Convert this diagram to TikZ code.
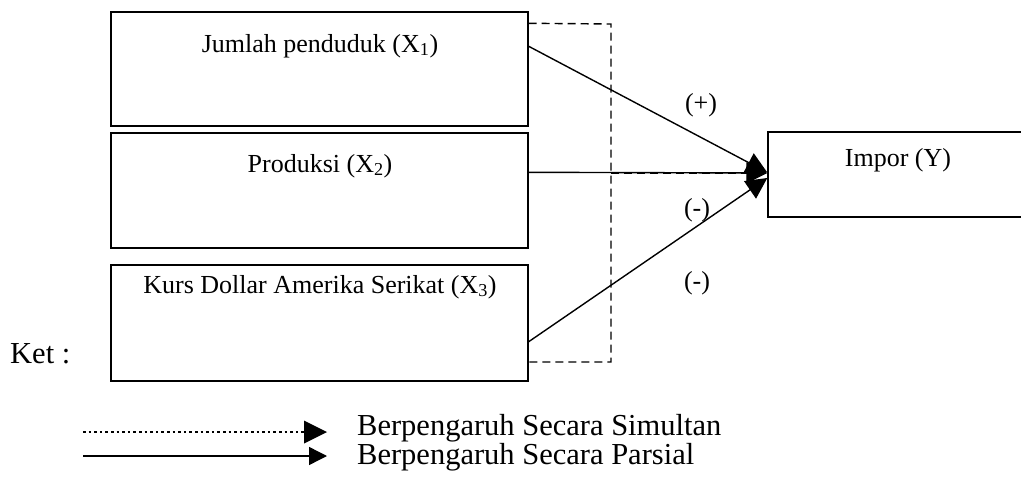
\documentclass[tikz,border=0pt]{standalone}
\usepackage{fontspec}
\setmainfont{Liberation Serif}
\usetikzlibrary{arrows.meta,calc}
\tikzset{
  box/.style={draw, line width=1.4pt, inner sep=0pt, minimum width=417pt},
  lbl/.style={inner sep=0pt, anchor=base, font=\fontsize{26}{30}\selectfont},
  big/.style={inner sep=0pt, anchor=base west, font=\fontsize{30.5}{34}\selectfont},
  conn/.style={line width=1.4pt, -{Triangle[length=21pt,width=21pt]}},
  simul/.style={line width=1.4pt, dash pattern=on 8pt off 5pt},
}
\begin{document}
\begin{tikzpicture}[x=1pt,y=-1pt]
\useasboundingbox (0,0) rectangle (1021,479);
% boxes
\node[box, minimum height=114pt] (x1) at (319.5,69) {};
\node[box, minimum height=115pt] (x2) at (319.5,190.5) {};
\node[box, minimum height=116pt] (x3) at (319.5,323) {};
\node[draw, line width=1.4pt, inner sep=0pt, minimum width=272pt, minimum height=85pt] (y) at (904,174.5) {};
% labels
\node[lbl] (t1) at (320,52) {Jumlah penduduk (X\textsubscript{1})};
\node[lbl] (t2) at (320,172) {Produksi (X\textsubscript{2})};
\node[lbl] (t3) at (320,293) {Kurs Dollar Amerika Serikat (X\textsubscript{3})};
\node[lbl] (ty) at (898,166) {Impor (Y)};
% simultaneous bracket
\coordinate (dtop) at (611,24);
\coordinate (dbot) at (611,362);
\coordinate (dmid) at (611,173);
\draw[simul] ([yshift=-12pt]x1.north east) -- (dtop) -- (dbot) -- (x3.east |- dbot);
\draw[simul] (dmid) -- (y.west |- dmid);
% partial connectors
\draw[conn] ([yshift=-35pt]x1.north east) -- ([yshift=2pt]y.west);
\draw[conn] ([yshift=-40pt]x2.north east) -- (y.west |- dmid);
\draw[conn] ([yshift=40pt]x3.south east) -- ([yshift=-3.5pt]y.west);
% signs
\node[lbl] (s1) at (701,111) {(+)};
\node[lbl] (s2) at (697,216) {(-)};
\node[lbl] (s3) at (697,289) {(-)};
% legend
\node[big] (ket) at (10,363) {Ket :};
\coordinate (l1a) at (83,432);
\node[big] (l1) at (357,435) {Berpengaruh Secara Simultan};
\coordinate (l2a) at (83,456);
\node[big] (l2) at (357,464) {Berpengaruh Secara Parsial};
\draw[line width=2.4pt, dash pattern=on 2.6pt off 3pt] (l1a) -- (304,432);
\fill (304,420.5) -- (327,432) -- (304,443.5) -- cycle;
\draw[line width=1.4pt, -{Triangle[length=18pt,width=18pt]}] (l2a) -- (327,456);
\end{tikzpicture}
\end{document}
